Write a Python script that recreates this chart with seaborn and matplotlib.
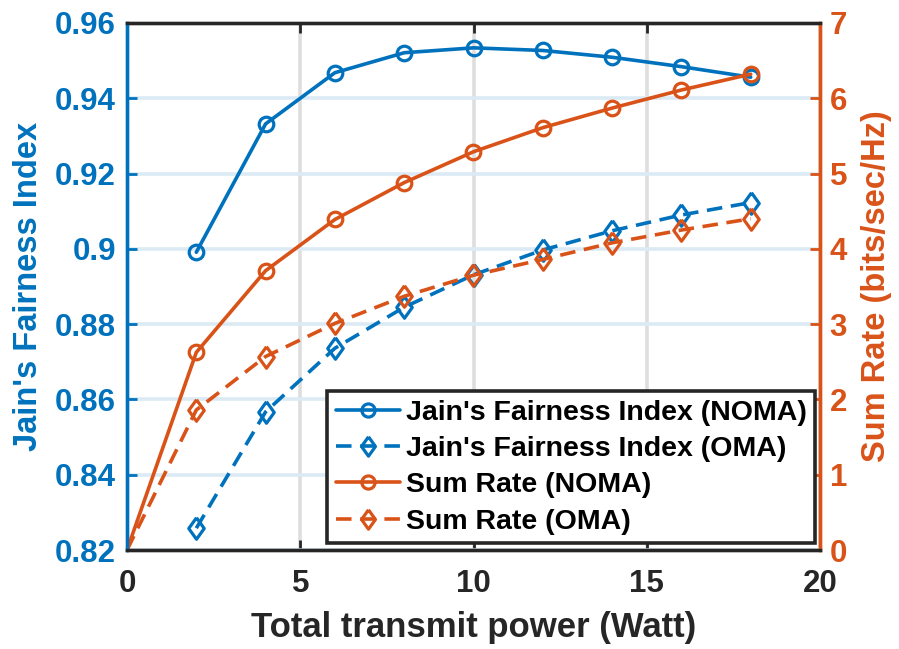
import matplotlib
matplotlib.use("Agg")
import matplotlib.pyplot as plt
import seaborn as sns
import pandas as pd

# Data
power = [2, 4, 6, 8, 10, 12, 14, 16, 18]
power_rate = [0, 2, 4, 6, 8, 10, 12, 14, 16, 18]
jfi_noma = [0.8991, 0.9332, 0.9468, 0.9521, 0.9534, 0.9527, 0.9509, 0.9484, 0.9456]
jfi_oma = [0.8258, 0.8567, 0.8736, 0.8845, 0.8931, 0.8997, 0.9048, 0.9090, 0.9123]
rate_noma = [0, 2.625, 3.71, 4.39, 4.88, 5.29, 5.61, 5.87, 6.11, 6.32]
rate_oma = [0, 1.86, 2.57, 3.01, 3.37, 3.65, 3.86, 4.08, 4.25, 4.40]

x_ticks = [0, 5, 10, 15, 20]
yl_ticks = [0.82, 0.84, 0.86, 0.88, 0.90, 0.92, 0.94, 0.96]
yl_labels = ["0.82", "0.84", "0.86", "0.88", "0.9", "0.92", "0.94", "0.96"]
yr_ticks = [0, 1, 2, 3, 4, 5, 6, 7]

BLUE = "#0072BD"
ORANGE = "#D95319"
DARK = "#262626"

sns.set_style("white")
plt.rcParams['font.family'] = ['Liberation Sans', 'DejaVu Sans']
plt.rcParams['font.weight'] = 'bold'

fig = plt.figure(figsize=(8.99, 6.49), dpi=100)
ax = fig.add_axes([127/899, 1-550/649, (820-127)/899, (550-23)/649])
ax2 = ax.twinx()

lw = 2.6
ms = 10.5
msd = 15.5
mew = 2.3
dash = [4.3, 2.4]
diamond = [(0, 1), (0.72, 0), (0, -1), (-0.72, 0), (0, 1)]

df1 = pd.DataFrame({"x": power, "y": jfi_noma})
df2 = pd.DataFrame({"x": power, "y": jfi_oma})
df3 = pd.DataFrame({"x": power_rate, "y": rate_noma})
df4 = pd.DataFrame({"x": power_rate, "y": rate_oma})

sns.lineplot(data=df1, x="x", y="y", ax=ax, color=BLUE, lw=lw, marker="o", ms=ms,
             mfc="none", mec=BLUE, mew=mew, label="Jain's Fairness Index (NOMA)", legend=False)
sns.lineplot(data=df2, x="x", y="y", ax=ax, color=BLUE, lw=lw, marker=diamond, ms=msd,
             mfc="none", mec=BLUE, mew=mew, label="Jain's Fairness Index (OMA)", legend=False)
ax.lines[1].set_dashes(dash)
sns.lineplot(data=df3, x="x", y="y", ax=ax2, color=ORANGE, lw=lw, marker="o", ms=ms,
             mfc="none", mec=ORANGE, mew=mew, label="Sum Rate (NOMA)", legend=False,
             markevery=list(range(1, len(power_rate))))
sns.lineplot(data=df4, x="x", y="y", ax=ax2, color=ORANGE, lw=lw, marker=diamond, ms=msd,
             mfc="none", mec=ORANGE, mew=mew, label="Sum Rate (OMA)", legend=False,
             markevery=list(range(1, len(power_rate))))
ax2.lines[1].set_dashes(dash)

ax.set_xlim(0, 20)
ax.set_ylim(0.82, 0.96)
ax2.set_ylim(0, 7)
ax.set_xticks(x_ticks)
ax.set_yticks(yl_ticks)
ax.set_yticklabels(yl_labels)
ax2.set_yticks(yr_ticks)

# grids
ax.yaxis.grid(True, color="#DCEAF5", lw=2.6)
ax.xaxis.grid(True, color="#DEDEDE", lw=2.6)
ax.set_axisbelow(True)

fs = 22.5
ax.tick_params(axis="x", direction="in", length=7, width=2, labelsize=fs, colors=DARK,
               top=True, bottom=True, pad=14)
ax.tick_params(axis="y", direction="in", length=7, width=2, labelsize=fs, colors=BLUE, pad=8)
ax2.tick_params(axis="y", direction="in", length=7, width=2, labelsize=fs, colors=ORANGE, pad=7)
for lab in ax.get_xticklabels() + ax.get_yticklabels() + ax2.get_yticklabels():
    lab.set_fontweight("bold")

for a in (ax, ax2):
    for s in a.spines.values():
        s.set_linewidth(2.4)
    a.spines["top"].set_color(DARK)
    a.spines["bottom"].set_color(DARK)
    a.spines["left"].set_color(BLUE)
    a.spines["right"].set_color(ORANGE)

ax.set_xlabel("Total transmit power (Watt)", fontsize=25, fontweight="bold", color=DARK, labelpad=8)
ax.set_ylabel("Jain's Fairness Index", fontsize=23.5, fontweight="bold", color=BLUE, labelpad=8)
ax2.set_ylabel("Sum Rate (bits/sec/Hz)", fontsize=23.5, fontweight="bold", color=ORANGE,
               rotation=90, labelpad=10)

handles = ax.lines[:2] + ax2.lines[:2]
labels = [h.get_label() for h in handles]
leg = ax2.legend(handles, labels, loc="lower right", bbox_to_anchor=(0.993, 0.013),
                 fontsize=20.5, frameon=True, fancybox=False, handlelength=2.25,
                 handletextpad=0.2, borderpad=0.3, labelspacing=0.36, borderaxespad=0,
                 markerscale=0.9)
leg.get_frame().set_edgecolor(DARK)
leg.get_frame().set_linewidth(2.6)
leg.get_frame().set_alpha(1)
for t in leg.get_texts():
    t.set_fontweight("bold")
    t.set_color("black")

fig.savefig("out.png", dpi=100)
